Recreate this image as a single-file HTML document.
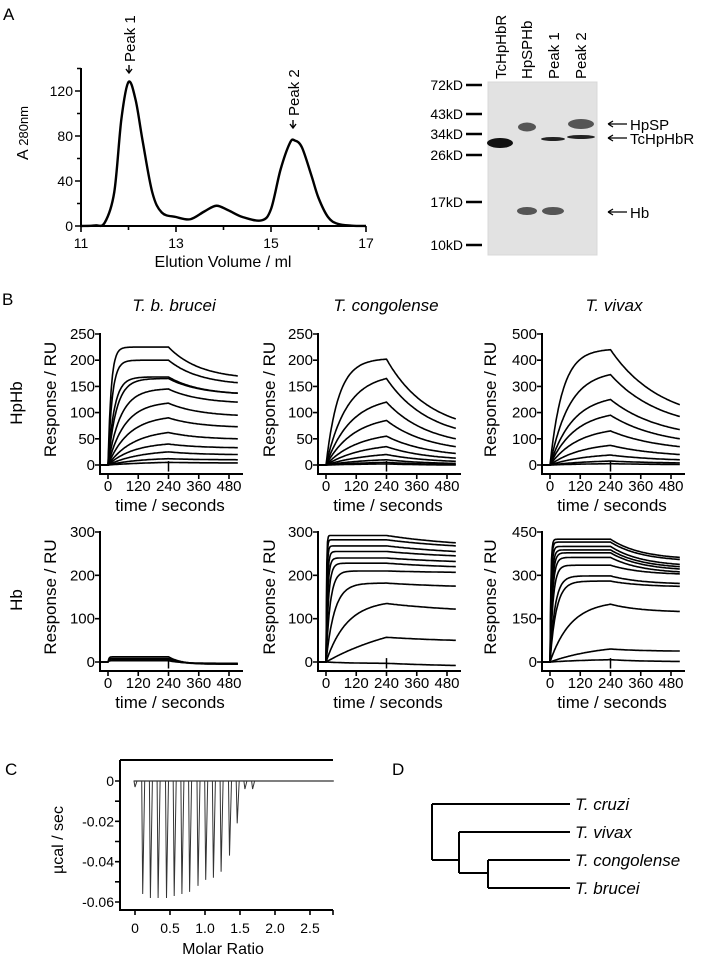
<!DOCTYPE html>
<html><head><meta charset="utf-8">
<style>
body{margin:0;background:#fff;}
svg{display:block;font-family:"Liberation Sans",Arial,sans-serif;}
.ax{stroke:#000;stroke-width:2;fill:none;}
.cv{stroke:#000;stroke-width:1.6;fill:none;}
.tk{font-size:15px;fill:#000;}
</style></head>
<body>
<svg id="fig" width="708" height="955" viewBox="0 0 708 955">
<!-- Panel A -->
<text x="3" y="20" font-size="17">A</text>
<g id="chrom"></g>
<text x="223" y="267" font-size="16" text-anchor="middle">Elution Volume / ml</text>
<text transform="translate(28,133) rotate(-90)" font-size="16" text-anchor="middle">A <tspan font-size="13">280nm</tspan></text>
<text transform="translate(135,62) rotate(-90)" font-size="15">Peak 1</text>
<text transform="translate(299,116) rotate(-90)" font-size="15">Peak 2</text>
<path d="M129,65 v7 M126,69 l3,4 l3,-4" stroke="#000" stroke-width="1.4" fill="none"/>
<path d="M293,120 v7 M290,124 l3,4 l3,-4" stroke="#000" stroke-width="1.4" fill="none"/>

<!-- Gel -->
<g>
<rect x="488" y="82" width="109" height="173" fill="#e2e2e2"/>
<rect x="488" y="82" width="109" height="173" fill="none" stroke="#d8d8d8"/>
<ellipse cx="500" cy="143" rx="13" ry="5" fill="#111"/>
<ellipse cx="527" cy="127" rx="9" ry="4.5" fill="#555"/>
<ellipse cx="527" cy="211" rx="10" ry="4" fill="#555"/>
<ellipse cx="553" cy="139" rx="12" ry="2" fill="#222"/>
<ellipse cx="553" cy="211" rx="11" ry="4" fill="#555"/>
<ellipse cx="581" cy="124" rx="13" ry="5" fill="#555"/>
<ellipse cx="581" cy="137" rx="14" ry="2" fill="#222"/>
</g>
<g font-size="14" text-anchor="end">
<text x="463" y="90">72kD</text><text x="463" y="119">43kD</text><text x="463" y="139">34kD</text>
<text x="463" y="160">26kD</text><text x="463" y="207">17kD</text><text x="463" y="250">10kD</text>
</g>
<path d="M466,85h16M466,114h16M466,134h16M466,155h16M466,202h16M466,245h16" stroke="#000" stroke-width="2.5"/>
<g font-size="15">
<text transform="translate(506,79) rotate(-90)">TcHpHbR</text>
<text transform="translate(532,79) rotate(-90)">HpSPHb</text>
<text transform="translate(559,79) rotate(-90)">Peak 1</text>
<text transform="translate(586,79) rotate(-90)">Peak 2</text>
</g>
<g font-size="15">
<path d="M608,124h19M608,138h19M608,212h19M608,124l5,-3M608,124l5,3M608,138l5,-3M608,138l5,3M608,212l5,-3M608,212l5,3" stroke="#000" stroke-width="1.3"/>
<text x="630" y="130">HpSP</text><text x="630" y="144">TcHpHbR</text><text x="630" y="218">Hb</text>
</g>

<!-- Panel B -->
<text x="2" y="305" font-size="17">B</text>
<g font-size="17" font-style="italic" text-anchor="middle">
<text x="174" y="311">T. b. brucei</text><text x="386" y="311">T. congolense</text><text x="614" y="311">T. vivax</text>
</g>
<text transform="translate(22,403) rotate(-90)" font-size="17" text-anchor="middle">HpHb</text>
<text transform="translate(22,600) rotate(-90)" font-size="17" text-anchor="middle">Hb</text>
<g id="spr"></g>

<!-- Panel C -->
<text x="5" y="775" font-size="17">C</text>
<g id="itc"></g>
<text x="223" y="954" font-size="16" text-anchor="middle">Molar Ratio</text>
<text transform="translate(63,840) rotate(-90)" font-size="16" text-anchor="middle">µcal / sec</text>

<!-- Panel D -->
<text x="392" y="775" font-size="17">D</text>
<path d="M432,804V860M432,804H570M432,860H459M459,832V873M459,832H570M459,873H488M488,860V888M488,860H570M488,888H570" stroke="#000" stroke-width="2" fill="none"/>
<g font-size="17" font-style="italic">
<text x="575" y="810">T. cruzi</text><text x="575" y="838">T. vivax</text>
<text x="575" y="866">T. congolense</text><text x="575" y="894">T. brucei</text>
</g>
</svg>
<script>
const NS="http://www.w3.org/2000/svg";
function mk(tag,attrs,parent){const e=document.createElementNS(NS,tag);for(const k in attrs)e.setAttribute(k,attrs[k]);parent.appendChild(e);return e;}

// ===== Panel A data =====
const elutionVol=[11,11.3,11.5,11.7,11.85,12.0,12.15,12.3,12.5,12.7,13.0,13.3,13.6,13.85,14.1,14.4,14.8,15.0,15.2,15.4,15.5,15.65,15.85,16.0,16.2,16.4,16.7,17];
const absorb=[0,0.5,3,30,95,128,112,75,30,12,8,6,13,18,14,8,5,15,50,74,76,70,45,25,8,2,0.3,0];
const aXTicks=[11,13,15,17];
const aYTicks=[0,40,80,120];
(function(){
 const g=document.getElementById('chrom');
 const X=v=>81+(v-11)*(285/6), Y=v=>226-v*1.125;
 const ax=mk('path',{d:`M81,68V226H366`,class:'ax'},g);
 
 
 let d='';
 for(let v=0;v<=140;v+=20){d+=`M81,${Y(v)}h${v%40==0?-6:-4}`;}
 for(let v=11;v<=17;v++){d+=`M${X(v)},226v${(v%2==1)?6:4}`;}
 mk('path',{d:d,stroke:'#000','stroke-width':1.6},g);
 aYTicks.forEach(v=>{const t=mk('text',{x:73,y:Y(v)+5,'text-anchor':'end','font-size':14},g);t.textContent=v;
  
  });
 aXTicks.forEach(v=>{const t=mk('text',{x:X(v),y:248,'text-anchor':'middle','font-size':14},g);t.textContent=v;
  
  });
 const P=elutionVol.map((v,i)=>[X(v),Y(absorb[i])]);
 let p=`M${P[0][0]},${P[0][1]}`;
 for(let i=0;i<P.length-1;i++){
  const p0=P[Math.max(0,i-1)],p1=P[i],p2=P[i+1],p3=P[Math.min(P.length-1,i+2)];
  const c1=[p1[0]+(p2[0]-p0[0])/6,p1[1]+(p2[1]-p0[1])/6],c2=[p2[0]-(p3[0]-p1[0])/6,p2[1]-(p3[1]-p1[1])/6];
  p+=`C${c1[0]},${c1[1]} ${c2[0]},${c2[1]} ${p2[0]},${p2[1]}`;
 }
 const c=mk('path',{d:p,stroke:'#000','stroke-width':2.4,fill:'none'},g);
 
 
})();

// ===== Panel B data =====
const timeTicks=[0,120,240,360,480];
const bbHpPeak=[225,200,168,165,145,118,90,62,40,25,12,5];
const bbHpEnd=[170,157,137,137,120,95,73,50,33,20,10,4];
const bbHpK=[0.08,0.06,0.04,0.03,0.02,0.015,0.012,0.01,0.01,0.008,0.008,0.005];
const tcHpPeak=[202,165,120,85,55,35,20,10,5,2];
const tcHpEnd=[88,70,50,35,22,13,7,3,1,0];
const tcHpK=[0.02,0.012,0.01,0.009,0.008,0.007,0.006,0.006,0.005,0.005];
const tvHpPeak=[440,345,250,190,130,75,38,15,5];
const tvHpEnd=[230,185,135,100,70,40,20,8,2];
const tvHpK=[0.02,0.013,0.011,0.01,0.009,0.008,0.007,0.006,0.005];
const bbHbPeak=[12,8,5,3];
const bbHbEnd=[-5,-5,-4,-3];
const bbHbK=[0.3,0.3,0.3,0.3];
const tcHbPeak=[292,282,268,255,240,228,210,182,135,57,-3];
const tcHbEnd=[275,268,255,245,232,220,207,175,122,50,-8];
const tcHbK=[0.5,0.4,0.3,0.2,0.15,0.1,0.06,0.03,0.012,0.003,0.01];
const tvHbPeak=[425,415,400,388,378,362,335,298,280,200,45,8];
const tvHbEnd=[362,355,338,330,322,312,305,272,262,175,38,2];
const tvHbK=[0.3,0.25,0.2,0.15,0.12,0.1,0.08,0.05,0.04,0.012,0.005,0.005];
const hpTicks250=[0,50,100,150,200,250];
const hpTicks500=[0,100,200,300,400,500];
const hbTicks300=[0,100,200,300];
const hbTicks450=[0,150,300,450];

function sprPanel(o){
 const g=mk('g',{},document.getElementById('spr'));
 
 
 const X=t=>o.x0+t*(121/480), Y=v=>o.y0-v*(o.h/o.ymax);
 const axisX=o.x0-8, axisEnd=o.x0+135, axisY=o.y0+9;
 mk('path',{d:`M${axisX},${o.y0-o.h-1}V${axisY}H${axisEnd}`,class:'ax'},g);
 let d='';
 o.ticks.forEach(v=>{d+=`M${axisX},${Y(v)}h-5`;});
 timeTicks.forEach(t=>{d+=`M${X(t)},${axisY}v5`;});
 mk('path',{d:d,stroke:'#000','stroke-width':1.6},g);
 o.ticks.forEach(v=>{const t=mk('text',{x:axisX-5,y:Y(v)+5,'text-anchor':'end',class:'tk'},g);t.textContent=v;
  
  });
 timeTicks.forEach(v=>{const t=mk('text',{x:X(v),y:axisY+17,'text-anchor':'middle',class:'tk'},g);t.textContent=v;
  
  });
 const tt=mk('text',{x:o.x0+62,y:axisY+37,'text-anchor':'middle','font-size':17},g);tt.textContent='time / seconds';
 
 
 const yt=mk('text',{transform:`translate(${o.yl},${o.y0-o.h/2}) rotate(-90)`,'text-anchor':'middle','font-size':17},g);yt.textContent='Response / RU';
 
 
 o.peak.forEach((pk,i)=>{
  const k=o.k[i],en=o.end[i],kd=o.kd;
  let p=`M${axisX+1},${Y(0)}L${X(0)},${Y(0)}`;
  for(let t=3;t<=240;t+=3){p+=`L${X(t).toFixed(1)},${Y(pk*(1-Math.exp(-k*t))/(1-Math.exp(-k*240))).toFixed(1)}`;}
  for(let t=245;t<=515;t+=5){const f=(1-Math.exp(-kd*(t-240)))/(1-Math.exp(-kd*275));p+=`L${X(t).toFixed(1)},${Y(pk-(pk-en)*f).toFixed(1)}`;}
  const c=mk('path',{d:p,class:'cv'},g);
  
  
 });
 mk('path',{d:`M${X(240)},${Y(o.ymax*0.03)}v${o.h*0.08}`,stroke:'#000','stroke-width':1.5},g);
}
sprPanel({name:'spr-brucei-hphb',x0:108,y0:465,h:131,ymax:250,ticks:hpTicks250,yl:56,peak:bbHpPeak,end:bbHpEnd,k:bbHpK,kd:0.008});
sprPanel({name:'spr-congolense-hphb',x0:326,y0:465,h:131,ymax:250,ticks:hpTicks250,yl:275,peak:tcHpPeak,end:tcHpEnd,k:tcHpK,kd:0.006});
sprPanel({name:'spr-vivax-hphb',x0:550,y0:465,h:131,ymax:500,ticks:hpTicks500,yl:496,peak:tvHpPeak,end:tvHpEnd,k:tvHpK,kd:0.005});
sprPanel({name:'spr-brucei-hb',x0:108,y0:662,h:130,ymax:300,ticks:hbTicks300,yl:56,peak:bbHbPeak,end:bbHbEnd,k:bbHbK,kd:0.02});
sprPanel({name:'spr-congolense-hb',x0:326,y0:662,h:130,ymax:300,ticks:hbTicks300,yl:275,peak:tcHbPeak,end:tcHbEnd,k:tcHbK,kd:0.003});
sprPanel({name:'spr-vivax-hb',x0:550,y0:662,h:130,ymax:450,ticks:hbTicks450,yl:496,peak:tvHbPeak,end:tvHbEnd,k:tvHbK,kd:0.008});

// ===== Panel C data =====
const molarRatio=[0.0,0.11,0.22,0.33,0.45,0.56,0.67,0.78,0.9,1.01,1.12,1.23,1.35,1.46,1.57,1.68];
const heatDepth=[-0.003,-0.056,-0.058,-0.058,-0.058,-0.057,-0.056,-0.055,-0.052,-0.049,-0.048,-0.045,-0.037,-0.021,-0.004,-0.004];
const itcXTicks=["0","0.5","1.0","1.5","2.0","2.5"];
const itcYTicks=["0","-0.02","-0.04","-0.06"];
(function(){
 const g=document.getElementById('itc');
 const X=v=>135+v*70;
 const Yv=v=>781+(-v)*(121/0.06);
 mk('path',{d:'M120,760H333M120,760V910H333',class:'ax'},g);
 let d='';
 for(let v=0;v>=-0.065;v-=0.01){d+=`M120,${Yv(v)}h-5`;}
 itcXTicks.forEach(s=>{d+=`M${X(parseFloat(s))},910v5`;});
 d+='M333,910v5';
 mk('path',{d:d,stroke:'#000','stroke-width':1.6},g);
 itcYTicks.forEach(s=>{const t=mk('text',{x:114,y:Yv(parseFloat(s))+5,'text-anchor':'end','font-size':14},g);t.textContent=s;
  
  });
 itcXTicks.forEach(s=>{const t=mk('text',{x:X(parseFloat(s)),y:933,'text-anchor':'middle','font-size':14},g);t.textContent=s;
  
  });
 const b=mk('path',{d:`M${X(-0.02)},${Yv(0)}H${X(2.84)}`,stroke:'#333','stroke-width':1.2},g);
 
 
 molarRatio.forEach((m,i)=>{
  const s=mk('path',{d:`M${X(m)-1},${Yv(0)}L${X(m)},${Yv(heatDepth[i])}L${X(m)+2},${Yv(0)}`,stroke:'#333','stroke-width':1,fill:'none'},g);
  
  
 });
})();
</script>
</body></html>
